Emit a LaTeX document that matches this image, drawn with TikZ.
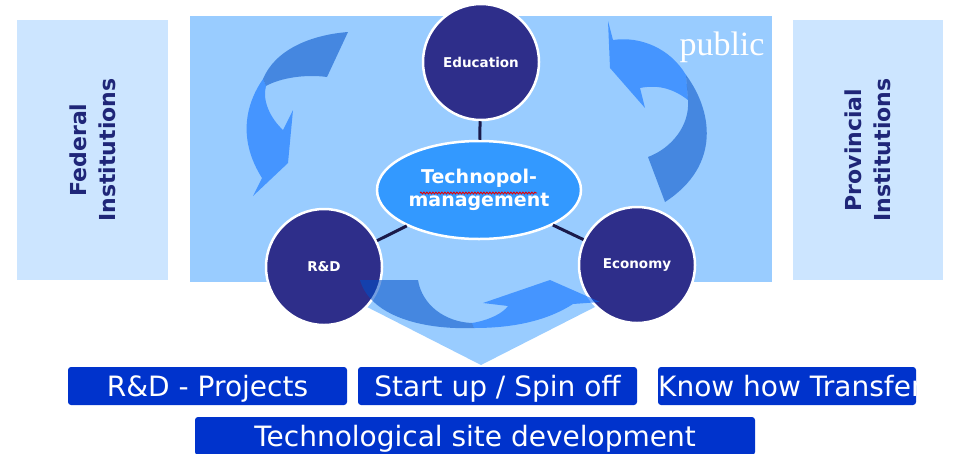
\documentclass[tikz,border=0pt]{standalone}
\usepackage{fontspec}
\setmainfont{DejaVu Sans}
\newfontfamily\pubfont{Liberation Serif}
\usetikzlibrary{shapes.geometric,decorations.pathmorphing}
\definecolor{panel}{RGB}{153,204,255}
\definecolor{sidepanel}{RGB}{204,229,255}
\definecolor{navy}{RGB}{46,46,138}
\definecolor{midblue}{RGB}{51,153,255}
\definecolor{taskblue}{RGB}{0,51,204}
\definecolor{instblue}{RGB}{31,38,120}
\definecolor{linkdark}{RGB}{26,26,74}
\definecolor{arrowdark}{RGB}{0,80,200}
\definecolor{arrowbright}{RGB}{0,104,255}

\begin{document}
\begin{tikzpicture}[x=1pt,y=-1pt,
   inst/.style={rotate=90,align=center,fill=sidepanel,inner sep=0pt,
     font=\bfseries\fontsize{22}{29}\selectfont,text=instblue},
   field/.style={circle,fill=navy,draw=white,line width=2.5pt,minimum size=116pt,
     inner sep=0pt,text=white,font=\bfseries\fontsize{13.5}{16}\selectfont},
   tasktext/.style={text=white,text height=20pt,text depth=0pt,
     font=\fontsize{28}{30}\selectfont},
   task/.style={tasktext,fill=taskblue,rounded corners=3pt,minimum height=38pt,inner sep=0pt},
   link/.style={draw=linkdark,line width=3pt},
   turn/.style={fill opacity=0.55}]
\useasboundingbox (0,0) rectangle (957,453);

% institutions on both sides
\node[inst,minimum width=260pt,minimum height=151pt] (fed) at (92.5,150) {Federal\\Institutions};
\node[inst,minimum width=260pt,minimum height=150pt] (prov) at (868,150) {Provincial\\Institutions};

% panel with the downward arrow
\fill[panel] (190,16) rectangle (772,282);
\fill[panel] (316,281) -- (646,281) -- (481,365) -- cycle;

% turning arrows, left and right
\fill[turn,arrowdark] (348,32) .. controls (310,35) and (275,50) .. (263,79)
   -- (266,86) .. controls (280,78) and (305,74) .. (327,77) -- cycle;
\fill[turn,arrowbright] (263,79) .. controls (245,105) and (238,140) .. (262,178)
   -- (253,196) -- (288,163) -- (293,110) -- (283,130)
   .. controls (270,118) and (262,100) .. (266,86) -- cycle;
\fill[turn,arrowbright] (608,21) -- (613,40) .. controls (640,36) and (670,48) .. (686,75)
   -- (688,100) .. controls (675,90) and (660,84) .. (640,88) -- (645,108) -- (610,68) -- cycle;
\fill[turn,arrowdark] (686,75) .. controls (712,110) and (722,165) .. (665,202)
   -- (648,157) .. controls (672,148) and (690,125) .. (688,100) -- cycle;

% the management and its three fields
\node[ellipse,fill=midblue,draw=white,line width=2.5pt,minimum width=204pt,minimum height=98pt,
   inner sep=0pt,align=center,text=white,font=\bfseries\fontsize{19}{23}\selectfont]
   (tech) at (479,190) {Technopol-\\management};
\draw[red!90!black,line width=0.9pt,decorate,decoration={snake,amplitude=0.9pt,segment length=3pt}]
   ([xshift=-59pt,yshift=-3pt]tech.center) -- ++(117,0);
\node[field] (edu) at (481,62) {Education};
\node[field] (rd) at (324,267) {R\&D};
\node[field] (eco) at (637,265) {Economy};
\draw[link] (edu) -- (tech);
\draw[link] (rd) -- (tech);
\draw[link] (eco) -- (tech);

% turning arrow at the bottom, over the circles
\fill[turn,arrowdark] (360,280) -- (418,280) .. controls (422,305) and (445,322) .. (472,323)
   -- (474,328) .. controls (420,330) and (370,315) .. (360,280) -- cycle;
\fill[turn,arrowbright] (472,323) .. controls (490,320) and (503,313) .. (508,306)
   -- (483,303) -- (550,280) -- (600,302) -- (573,304)
   .. controls (545,322) and (510,328) .. (474,328) -- cycle;

% outcomes
\node[task,minimum width=279pt] (proj) at (207.5,386) {R\&D - Projects};
\node[task,minimum width=279pt] (spin) at (497.5,386) {Start up / Spin off};
\node[task,minimum width=258pt,path picture={
   \node[tasktext,anchor=west,inner sep=0pt] at (path picture bounding box.west) {Know how Transfer};}]
   (know) at (787,386) {};
\node[task,minimum width=560pt] (site) at (475,436) {Technological site development};

\node[anchor=base,inner sep=0pt,text=white,font=\pubfont\fontsize{34}{34}\selectfont] (pub) at (722,55) {public};
\end{tikzpicture}
\end{document}
